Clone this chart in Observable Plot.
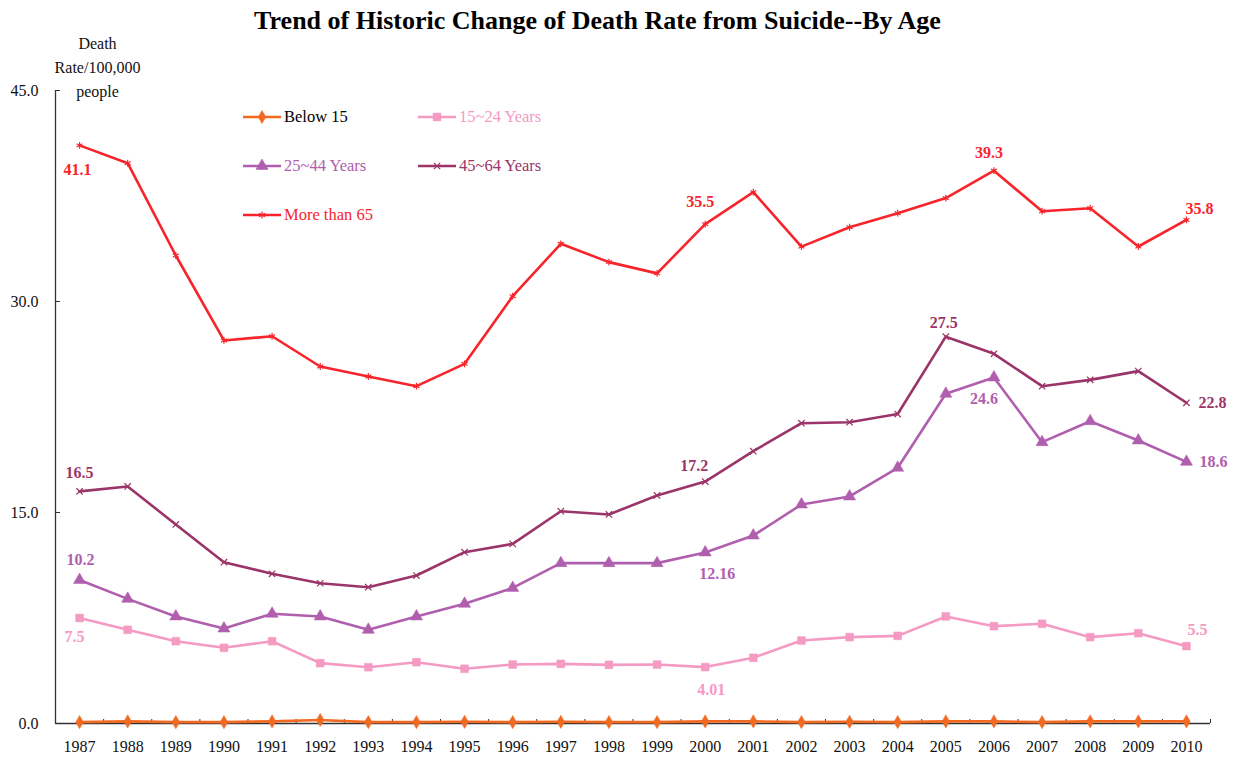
<!DOCTYPE html>
<html>
<head>
<meta charset="utf-8">
<script src="https://cdn.jsdelivr.net/npm/d3@7"></script>
<script src="https://cdn.jsdelivr.net/npm/@observablehq/plot@0.6"></script>
<style>
  html, body { margin: 0; padding: 0; background: #fff; }
  #wrap { position: relative; width: 1235px; height: 760px; font-family: "Liberation Serif", "Times New Roman", serif; }
  #title { position: absolute; left: 0; width: 1195px; top: 6px; text-align: center; font-weight: bold; font-size: 26px; color: #000; }
  #ytitle { position: absolute; left: 40px; width: 115px; top: 32px; text-align: center; font-size: 16px; line-height: 24px; color: #111; }
  .leg { position: absolute; display: flex; align-items: center; font-size: 16.5px; white-space: nowrap; }
  .leg svg { margin-right: 3px; }
</style>
</head>
<body>
<div id="wrap">
  <div id="title">Trend of Historic Change of Death Rate from Suicide--By Age</div>
  <div id="ytitle">Death<br>Rate/100,000<br>people</div>
</div>
<script>
// ---------------- data ----------------
const years = [1987, 1988, 1989, 1990, 1991, 1992, 1993, 1994, 1995, 1996, 1997, 1998,
               1999, 2000, 2001, 2002, 2003, 2004, 2005, 2006, 2007, 2008, 2009, 2010];

const seriesNames = ["Below 15", "15~24 Years", "25~44 Years", "45~64 Years", "More than 65"];

const below15   = [0.10, 0.15, 0.10, 0.10, 0.15, 0.25, 0.10, 0.10, 0.12, 0.10, 0.12, 0.10,
                   0.10, 0.15, 0.15, 0.10, 0.12, 0.10, 0.15, 0.15, 0.10, 0.15, 0.15, 0.15];
const age15_24  = [7.5, 6.66, 5.85, 5.38, 5.85, 4.29, 4.0, 4.36, 3.89, 4.19, 4.24, 4.17,
                   4.19, 4.01, 4.67, 5.9, 6.14, 6.23, 7.61, 6.92, 7.09, 6.14, 6.42, 5.5];
const age25_44  = [10.2, 8.86, 7.61, 6.75, 7.8, 7.61, 6.66, 7.61, 8.51, 9.64, 11.4, 11.4,
                   11.4, 12.16, 13.36, 15.57, 16.14, 18.18, 23.44, 24.6, 20.0, 21.49, 20.12, 18.6];
const age45_64  = [16.5, 16.85, 14.15, 11.47, 10.64, 9.97, 9.69, 10.52, 12.18, 12.77, 15.09, 14.86,
                   16.21, 17.2, 19.36, 21.35, 21.42, 22.0, 27.5, 26.28, 23.98, 24.43, 25.05, 22.8];
const over65    = [41.1, 39.83, 33.27, 27.23, 27.53, 25.38, 24.67, 23.98, 25.57, 30.38, 34.1, 32.8,
                   32.0, 35.5, 37.77, 33.9, 35.28, 36.28, 37.35, 39.3, 36.42, 36.63, 33.91, 35.8];

const yTickValues = [0, 15, 30, 45];

// labelled points: [series, year]
const labelPoints = [
  ["More than 65", 1987], ["More than 65", 2000], ["More than 65", 2006], ["More than 65", 2010],
  ["45~64 Years", 1987], ["45~64 Years", 2000], ["45~64 Years", 2005], ["45~64 Years", 2010],
  ["25~44 Years", 1987], ["25~44 Years", 2000], ["25~44 Years", 2006], ["25~44 Years", 2010],
  ["15~24 Years", 1987], ["15~24 Years", 2000], ["15~24 Years", 2010]
];

// ---------------- styles ----------------
const seriesValues = {
  "Below 15": below15, "15~24 Years": age15_24, "25~44 Years": age25_44,
  "45~64 Years": age45_64, "More than 65": over65
};
const style = {
  "Below 15":     {color: "#f26a22", symbol: "diamond",  r: 4.0, filled: true,  text: "#000000"},
  "15~24 Years":  {color: "#f49ac3", symbol: "square",   r: 4.4, filled: true,  text: "#f49ac3"},
  "25~44 Years":  {color: "#b05eae", symbol: "triangle", r: 4.5, filled: true,  text: "#b05eae"},
  "45~64 Years":  {color: "#9b3468", symbol: "times",    r: 3.0, filled: false, text: "#9b3468"},
  "More than 65": {color: "#f8242c", symbol: "asterisk", r: 3.2, filled: false, text: "#f8242c"}
};
const labelOffsets = {
  "More than 65|1987": [-2, 25], "More than 65|2000": [-5, -22], "More than 65|2006": [-5, -18], "More than 65|2010": [13, -11],
  "45~64 Years|1987": [0, -19], "45~64 Years|2000": [-11, -16], "45~64 Years|2005": [-2, -14], "45~64 Years|2010": [26, 0],
  "25~44 Years|1987": [1, -20], "25~44 Years|2000": [12, 21], "25~44 Years|2006": [-10, 21], "25~44 Years|2010": [27, 0],
  "15~24 Years|1987": [-5, 19], "15~24 Years|2000": [6, 23], "15~24 Years|2010": [11, -16]
};

// ---------------- build table ----------------
const table = [];
for (const s of seriesNames) {
  years.forEach((yr, i) => table.push({series: s, year: yr, value: seriesValues[s][i]}));
}

const FONT = "'Liberation Serif', 'Times New Roman', serif";
const marks = [];

// axes
marks.push(Plot.ruleY([0], {stroke: "#333", strokeWidth: 1.3}));
marks.push(Plot.ruleX([1986.5], {y1: 0, y2: 45, stroke: "#333", strokeWidth: 1.3}));
marks.push(Plot.axisY({ticks: yTickValues, label: null, tickSize: 0, tickPadding: 17, tickFormat: d3.format(".1f"), fontSize: 16, fill: "#111"}));
marks.push(Plot.axisY({ticks: yTickValues, label: null, tickSize: -5, tickFormat: () => "", stroke: "#333"}));
marks.push(Plot.axisX({ticks: years, label: null, tickSize: 0, tickPadding: 17, tickFormat: d => String(d), fontSize: 16, fill: "#111"}));
marks.push(Plot.axisX({ticks: years.map(d => d + 0.5), label: null, tickSize: -4, tickFormat: () => "", stroke: "#333"}));

// lines and markers
for (const s of seriesNames) {
  const st = style[s];
  const rows = table.filter(d => d.series === s);
  marks.push(Plot.line(rows, {x: "year", y: "value", stroke: st.color, strokeWidth: 2.6}));
  marks.push(Plot.dot(rows, {
    x: "year", y: "value", symbol: st.symbol, r: st.r,
    fill: st.filled ? st.color : "none", stroke: st.color, strokeWidth: st.filled ? 0.5 : 1.2
  }));
}

// value labels
for (const [s, yr] of labelPoints) {
  const i = years.indexOf(yr);
  const [dx, dy] = labelOffsets[s + "|" + yr];
  marks.push(Plot.text([{year: yr, value: seriesValues[s][i]}], {
    x: "year", y: "value", text: d => String(d.value), dx, dy,
    fill: style[s].color, fontWeight: "bold", fontSize: 16, textAnchor: "middle"
  }));
}

const chart = Plot.plot({
  width: 1235, height: 760,
  marginLeft: 55, marginRight: 25, marginTop: 90, marginBottom: 37,
  x: {type: "linear", domain: [1986.5, 2010.5], axis: null, label: null},
  y: {domain: [0, 45], axis: null, label: null},
  style: {fontFamily: FONT, background: "white", overflow: "visible"},
  marks
});
const wrap = document.getElementById("wrap");
wrap.insertBefore(chart, wrap.firstChild);
chart.style.position = "absolute";
chart.style.left = "0px";
chart.style.top = "0px";

// legend (HTML overlay inside the plot area)
const symMap = {diamond: d3.symbolDiamond, square: d3.symbolSquare, triangle: d3.symbolTriangle, times: d3.symbolTimes, asterisk: d3.symbolAsterisk};
seriesNames.forEach((s, k) => {
  const st = style[s];
  const col = k % 2, row = Math.floor(k / 2);
  const item = document.createElement("div");
  item.className = "leg";
  item.style.left = (243 + col * 175) + "px";
  item.style.top = (105 + row * 49) + "px";
  item.style.height = "24px";
  item.style.color = st.text;
  const svg = d3.create("svg").attr("width", 38).attr("height", 14);
  svg.append("line").attr("x1", 0).attr("x2", 38).attr("y1", 7).attr("y2", 7)
    .attr("stroke", st.color).attr("stroke-width", 2.6);
  const area = Math.PI * st.r * st.r;
  svg.append("path").attr("transform", "translate(19,7)")
    .attr("d", d3.symbol(symMap[st.symbol], area)())
    .attr("fill", st.filled ? st.color : "none").attr("stroke", st.color).attr("stroke-width", st.filled ? 0.5 : 1.2);
  item.appendChild(svg.node());
  const span = document.createElement("span");
  span.textContent = s;
  item.appendChild(span);
  wrap.appendChild(item);
});
</script>
</body>
</html>
